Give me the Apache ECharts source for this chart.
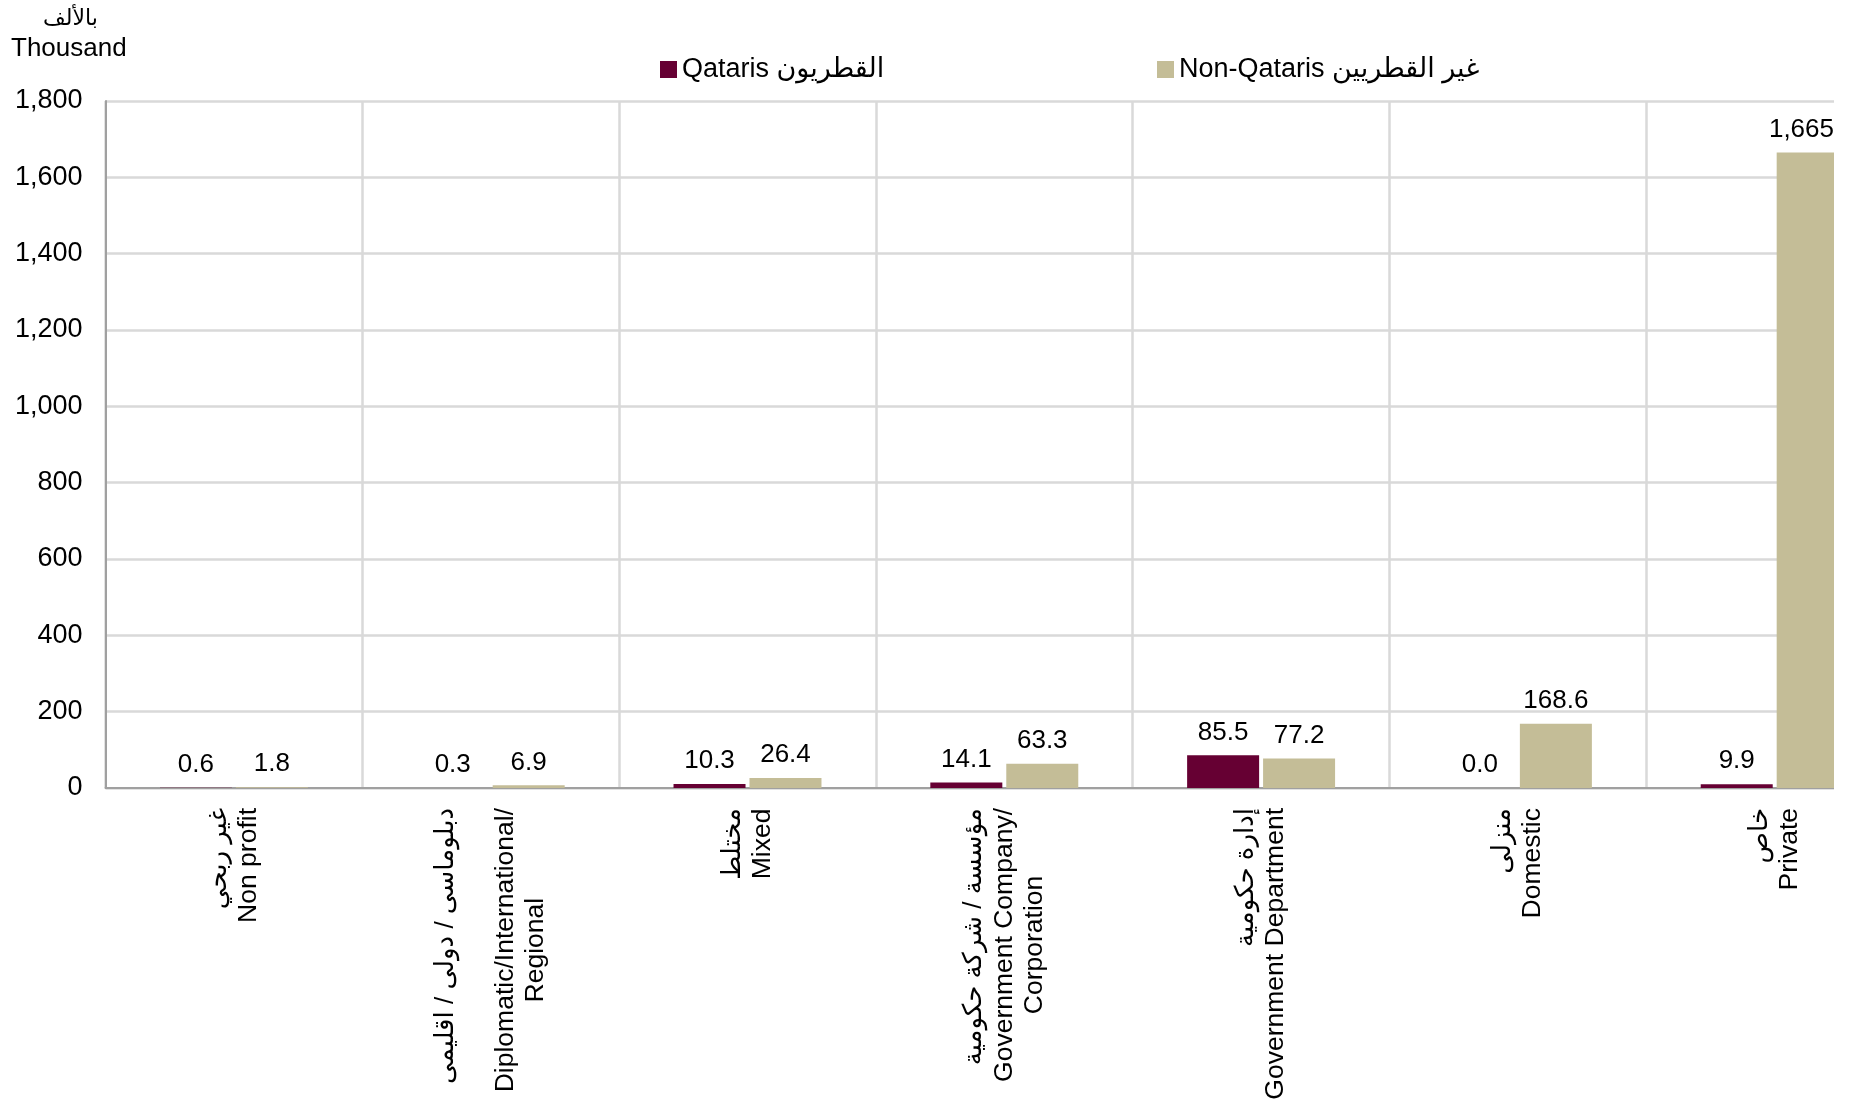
<!DOCTYPE html>
<html>
<head>
<meta charset="utf-8">
<script src="https://cdn.jsdelivr.net/npm/echarts@6/dist/echarts.min.js"></script>
<style>
  html, body { margin: 0; padding: 0; background: #ffffff; width: 1858px; height: 1105px; overflow: hidden; }
  #chart { position: absolute; left: 0; top: 0; width: 1920px; height: 1105px; }
  #mask { position: absolute; left: 1834px; top: 0; width: 100px; height: 1105px; background: #ffffff; }
</style>
</head>
<body>
<div id="chart"></div>
<div id="mask"></div>
<script>
// ---- data ----
const categoriesEn = ['Non profit', 'Diplomatic/International/\nRegional', 'Mixed', 'Government Company/\nCorporation', 'Government Department', 'Domestic', 'Private'];
const categoriesAr = ['غير ربحي', 'دبلوماسى / دولى / اقليمى\n ', 'مختلط', 'مؤسسة / شركة حكومية', 'إدارة حكومية', 'منزلى', 'خاص'];
const qataris = [0.6, 0.3, 10.3, 14.1, 85.5, 0.0, 9.9];
const nonQataris = [1.8, 6.9, 26.4, 63.3, 77.2, 168.6, 1665];
const yTicks = [0, 200, 400, 600, 800, 1000, 1200, 1400, 1600, 1800];
const seriesNames = ['Qataris القطريون', 'Non-Qataris غير القطريين'];

const FONT = '"Liberation Sans", Arial, "DejaVu Sans", sans-serif';
const PLOT_RIGHT = 1834;

function fmtValue(v) {
  if (v >= 1000) return Math.round(v).toLocaleString('en-US');
  return v.toFixed(1);
}

const chart = echarts.init(document.getElementById('chart'), null, { renderer: 'canvas' });

const labelCfg = {
  show: true,
  position: 'top',
  distance: 10,
  color: '#000000',
  fontSize: 26,
  fontFamily: FONT,
  formatter: p => fmtValue(p.value)
};

function keepInside(p) {
  const r = p.labelRect;
  return { dx: Math.min(0, PLOT_RIGHT - (r.x + r.width)) };
}

const option = {
  backgroundColor: '#ffffff',
  animation: false,
  textStyle: { fontFamily: FONT },
  grid: { left: 105.5, top: 101, width: 1797.6, height: 687, containLabel: false },
  legend: [
    {
      data: [seriesNames[0]], left: 655, top: 51,
      icon: 'rect', itemWidth: 17, itemHeight: 17,
      textStyle: { fontSize: 27, color: '#000', fontFamily: FONT }
    },
    {
      data: [seriesNames[1]], left: 1152, top: 51,
      icon: 'rect', itemWidth: 17, itemHeight: 17,
      textStyle: { fontSize: 27, color: '#000', fontFamily: FONT }
    }
  ],
  graphic: [
    { type: 'text', left: 43, top: 8, style: { text: 'بالألف', fill: '#000', font: '22px ' + FONT } },
    { type: 'text', left: 11, top: 36, style: { text: 'Thousand', fill: '#000', font: '26px ' + FONT } }
  ],
  xAxis: {
    type: 'category',
    data: categoriesEn,
    boundaryGap: true,
    axisLine: { show: true, lineStyle: { color: '#a0a0a0', width: 2 } },
    axisTick: { show: false },
    splitLine: { show: true, interval: 0, lineStyle: { color: '#d9d9d9', width: 2.5 } },
    axisLabel: {
      interval: 0,
      rotate: 90,
      margin: 20,
      color: '#000',
      formatter: function (value, idx) {
        const ar = categoriesAr[idx].split('\n').map(l => '{ar|' + l + '}');
        const en = categoriesEn[idx].split('\n').map(l => '{en|' + l + '}');
        return ar.concat(en).join('\n');
      },
      rich: {
        ar: { fontSize: 26, lineHeight: 30, align: 'right', fontFamily: FONT, color: '#000' },
        en: { fontSize: 26.5, lineHeight: 30, align: 'center', fontFamily: FONT, color: '#000' }
      }
    }
  },
  yAxis: {
    type: 'value',
    min: 0,
    max: 1800,
    interval: 200,
    axisLine: { show: true, lineStyle: { color: '#a0a0a0', width: 2 } },
    axisTick: { show: false },
    splitLine: { show: true, lineStyle: { color: '#d9d9d9', width: 2.5 } },
    axisLabel: {
      margin: 23,
      fontSize: 27,
      color: '#000',
      fontFamily: FONT,
      formatter: v => yTicks.indexOf(v) >= 0 ? v.toLocaleString('en-US') : ''
    }
  },
  series: [
    {
      name: seriesNames[0],
      type: 'bar',
      data: qataris,
      barWidth: 72,
      barGap: '5.5%',
      itemStyle: { color: '#660033' },
      label: labelCfg,
      labelLayout: keepInside
    },
    {
      name: seriesNames[1],
      type: 'bar',
      data: nonQataris,
      barWidth: 72,
      barGap: '5.5%',
      itemStyle: { color: '#c4bd97' },
      label: labelCfg,
      labelLayout: keepInside
    }
  ]
};

chart.setOption(option);
</script>
</body>
</html>
